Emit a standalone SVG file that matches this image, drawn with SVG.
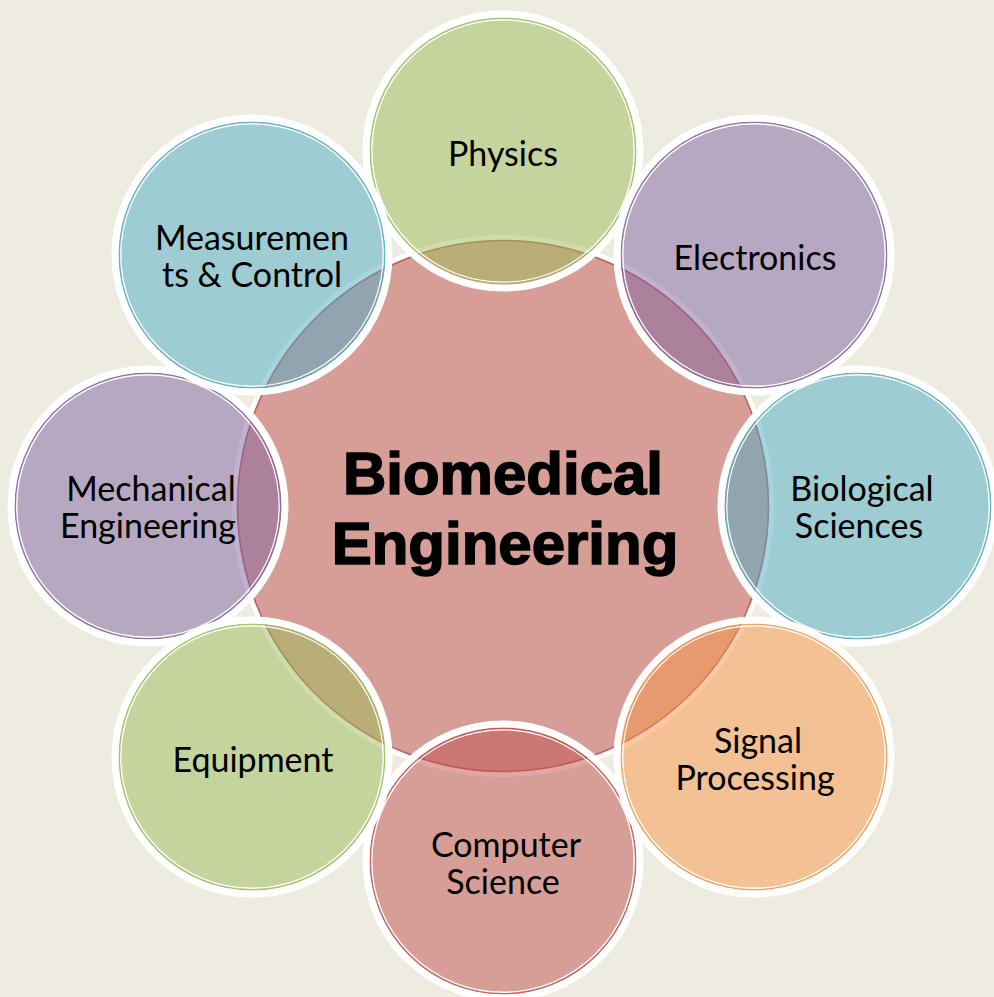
<svg xmlns="http://www.w3.org/2000/svg" width="994" height="997" viewBox="0 0 994 997">
<defs>
<style>
.ring{fill:none;stroke:#FFFFFF;stroke-width:7}
.inner{fill:none;stroke:#FFFFFF;stroke-width:1.2}
.lbl{font-family:Lato,"Open Sans","DejaVu Sans",sans-serif;font-size:34px;fill:#000000;text-anchor:middle}
.title{font-family:"Liberation Sans",Arial,sans-serif;font-weight:bold;font-size:60px;fill:#000000;stroke:#000000;stroke-width:1.6;text-anchor:middle}
.green .fill{fill:#9BBB59}
.green .line{stroke:#9BBB59}
.purple .fill{fill:#8064A2}
.purple .line{stroke:#8064A2}
.aqua .fill{fill:#4BACC6}
.aqua .line{stroke:#4BACC6}
.orange .fill{fill:#F79646}
.orange .line{stroke:#F79646}
.red .fill{fill:#C0504D}
.red .line{stroke:#C0504D}
.fill{fill-opacity:0.5}
.line{fill:none;stroke-width:1.6;stroke-opacity:0.85}
</style>
</defs>
<rect x="0" y="0" width="994" height="997" fill="#EEECE1"/>

<g id="center" class="red">
<circle cx="503" cy="506" r="266" class="fill"/>
<circle cx="503" cy="506" r="268.5" fill="none" stroke="#FFFFFF" stroke-width="5"/>
<circle cx="503" cy="506" r="265.5" class="line"/>
</g>

<g id="physics" class="green">
<circle cx="503" cy="151" r="131" class="fill"/>
<circle cx="503" cy="151" r="131.2" class="inner"/>
<circle cx="503" cy="151" r="132.8" class="line"/>
<circle cx="503" cy="151" r="137" class="ring"/>
<text x="503" y="166" class="lbl">Physics</text>
</g>

<g id="biological" class="aqua">
<circle cx="858" cy="506" r="131" class="fill"/>
<circle cx="858" cy="506" r="131.2" class="inner"/>
<circle cx="858" cy="506" r="132.8" class="line"/>
<circle cx="858" cy="506" r="137" class="ring"/>
<text x="862" y="501" class="lbl">Biological</text>
<text x="859" y="538" class="lbl">Sciences</text>
</g>

<g id="computer" class="red">
<circle cx="503" cy="861" r="131" class="fill"/>
<circle cx="503" cy="861" r="131.2" class="inner"/>
<circle cx="503" cy="861" r="132.8" class="line"/>
<circle cx="503" cy="861" r="137" class="ring"/>
<text x="506" y="857" class="lbl">Computer</text>
<text x="503" y="894" class="lbl">Science</text>
</g>

<g id="mechanical" class="purple">
<circle cx="148" cy="506" r="131" class="fill"/>
<circle cx="148" cy="506" r="131.2" class="inner"/>
<circle cx="148" cy="506" r="132.8" class="line"/>
<circle cx="148" cy="506" r="137" class="ring"/>
<text x="151" y="501" class="lbl">Mechanical</text>
<text x="148" y="538" class="lbl">Engineering</text>
</g>

<g id="electronics" class="purple">
<circle cx="754" cy="255" r="131" class="fill"/>
<circle cx="754" cy="255" r="131.2" class="inner"/>
<circle cx="754" cy="255" r="132.8" class="line"/>
<circle cx="754" cy="255" r="137" class="ring"/>
<text x="755" y="270" class="lbl">Electronics</text>
</g>

<g id="signal" class="orange">
<circle cx="754" cy="757" r="131" class="fill"/>
<circle cx="754" cy="757" r="131.2" class="inner"/>
<circle cx="754" cy="757" r="132.8" class="line"/>
<circle cx="754" cy="757" r="137" class="ring"/>
<text x="758" y="753" class="lbl">Signal</text>
<text x="755" y="790" class="lbl">Processing</text>
</g>

<g id="equipment" class="green">
<circle cx="252" cy="757" r="131" class="fill"/>
<circle cx="252" cy="757" r="131.2" class="inner"/>
<circle cx="252" cy="757" r="132.8" class="line"/>
<circle cx="252" cy="757" r="137" class="ring"/>
<text x="253" y="772" class="lbl">Equipment</text>
</g>

<g id="measurements" class="aqua">
<circle cx="252" cy="255" r="131" class="fill"/>
<circle cx="252" cy="255" r="131.2" class="inner"/>
<circle cx="252" cy="255" r="132.8" class="line"/>
<circle cx="252" cy="255" r="137" class="ring"/>
<text x="252" y="250" class="lbl">Measuremen</text>
<text x="252" y="287" class="lbl">ts &amp; Control</text>
</g>

<g id="title">
<text x="503" y="494" class="title">Biomedical</text>
<text x="505" y="564" class="title">Engineering</text>
</g>

<g id="connectors"></g>
</svg>
